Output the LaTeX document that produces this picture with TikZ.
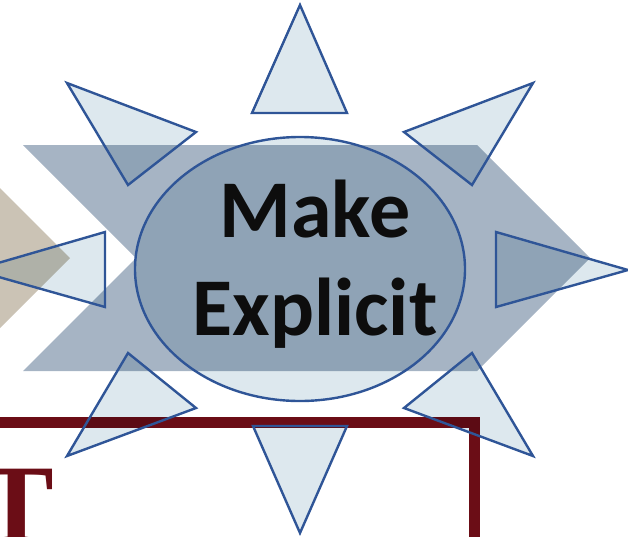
\documentclass[tikz,border=0pt]{standalone}
\usepackage{fontspec}
\setmainfont{Carlito}
\newfontfamily\frameserif{Liberation Serif}
\usetikzlibrary{calc}
\definecolor{rayfill}{HTML}{DDE8EE}
\definecolor{rayline}{HTML}{2F5597}
\definecolor{chevblue}{HTML}{A6B4C4}
\definecolor{chevtan}{HTML}{CBC3B5}
\definecolor{framered}{HTML}{6B0D16}
\tikzset{
  ray/.style={draw=rayline, line width=2.4pt, line join=miter},
  chev/.style={blend mode=multiply},
}
% corners of the eight rays: x1/y1/x2/y2/x3/y3
\def\raylist{252/113/347/113/300/5, 253/426/347/426/300/533,
  105/232/105/307/-26/270, 496/232/496/307/628/270,
  67/83/196/132/128/185, 533/83/404/132/472/185,
  67/456/196/408/128/353, 533/456/404/408/472/353}

\begin{document}
\begin{tikzpicture}[x=1pt, y=-1pt]
\useasboundingbox (0,0) rectangle (628,536);
\clip (0,0) rectangle (628,536);
\coordinate (hub) at (300,269);
% Letter at the bottom
\node[font=\frameserif\bfseries\fontsize{112}{112}\selectfont, text=framered, anchor=base, inner sep=0pt] (letter) at (16.5,542) {T};
% Rays and hub, fill only
\foreach \ax/\ay/\bx/\by/\cx/\cy in \raylist{
  \fill[rayfill] (\ax,\ay) -- (\bx,\by) -- (\cx,\cy) -- cycle;
}
\fill[rayfill] (hub) ellipse [x radius=165, y radius=132];
% Frame and chevrons laid over
\draw[framered, chev, line width=11pt] (-20,422.5) -- (474.5,422.5) -- (474.5,560);
\fill[chevtan, chev] (-200,145) -- (-43,145) -- (70,258) -- (-43,371) -- (-200,371) -- cycle;
\fill[chevblue, chev] (23,145) -- (477,145) -- (590,258) -- (477,371) -- (23,371) -- (136,258) -- cycle;
% Outlines on top
\foreach \ax/\ay/\bx/\by/\cx/\cy in \raylist{
  \draw[ray] (\ax,\ay) -- (\bx,\by) -- (\cx,\cy) -- cycle;
}
\draw[ray] (hub) ellipse [x radius=165, y radius=132];
\node[font=\bfseries\fontsize{82}{98}\selectfont, align=center, text=black!95] (hubtext) at (315,264) {Make\\Explicit};
\end{tikzpicture}
\end{document}
